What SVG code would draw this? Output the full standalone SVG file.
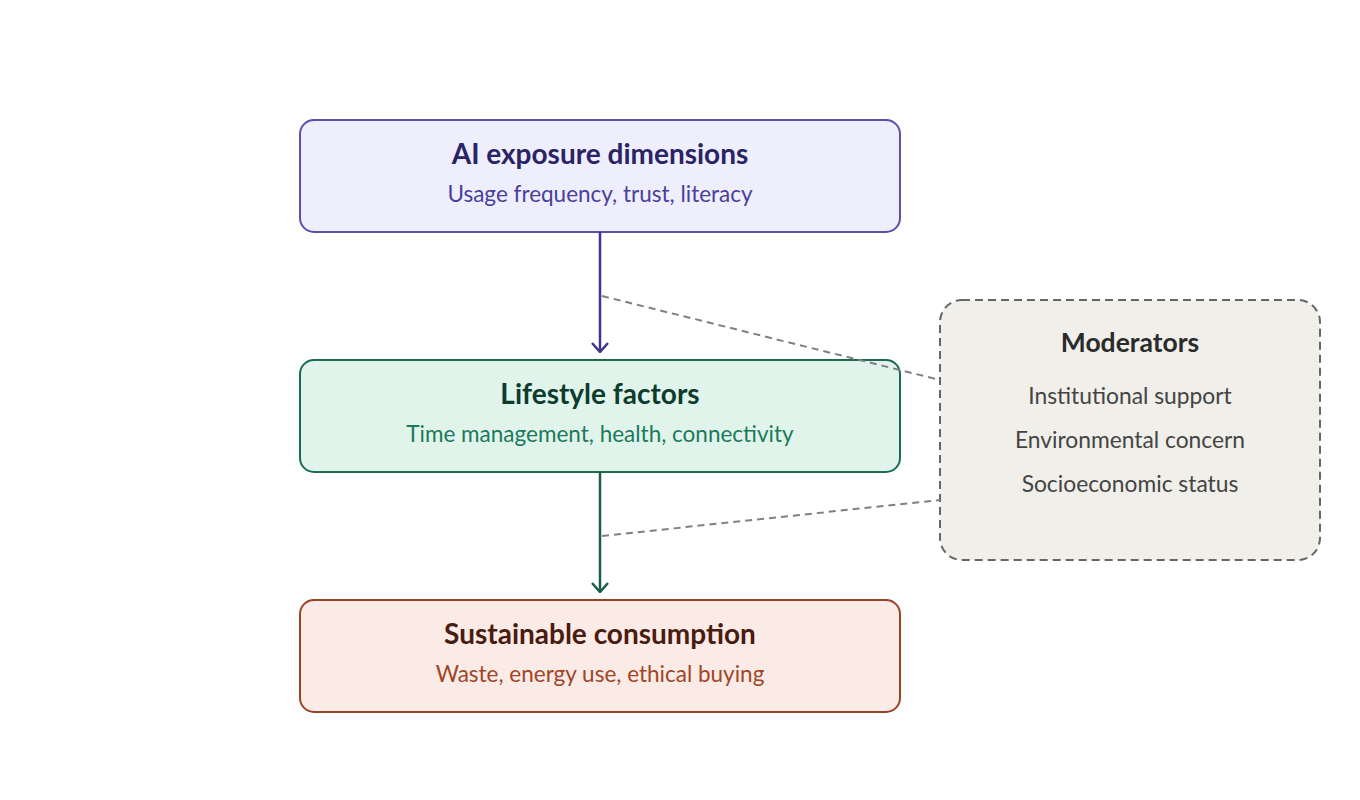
<svg xmlns="http://www.w3.org/2000/svg" width="1360" height="800" viewBox="0 0 1360 800">
<style>
.t{font-family:Lato,"Open Sans","Liberation Sans",sans-serif;font-weight:700;font-size:28px;text-anchor:middle}
.m{font-family:Lato,"Open Sans","Liberation Sans",sans-serif;font-weight:700;font-size:26.5px;text-anchor:middle}
.s{font-family:Lato,"Open Sans","Liberation Sans",sans-serif;font-size:22.5px;text-anchor:middle}
.i{font-family:Lato,"Open Sans","Liberation Sans",sans-serif;font-size:22.8px;text-anchor:middle}
.box{stroke-width:2}
.dash{fill:none;stroke:#808080;stroke-width:2;stroke-dasharray:7 5}
</style>
<defs>
<marker id="ap" viewBox="0 0 11 18" refX="10" refY="9" markerWidth="11" markerHeight="18" markerUnits="userSpaceOnUse" orient="auto">
<path d="M1,1 L10,9 L1,17" fill="none" stroke="#3f3590" stroke-width="2.5"/>
</marker>
<marker id="ag" viewBox="0 0 11 18" refX="10" refY="9" markerWidth="11" markerHeight="18" markerUnits="userSpaceOnUse" orient="auto">
<path d="M1,1 L10,9 L1,17" fill="none" stroke="#1a5e47" stroke-width="2.5"/>
</marker>
</defs>
<rect width="1360" height="800" fill="#ffffff"/>
<g id="node-ai">
<rect class="box" x="300" y="120" width="600" height="112" rx="14" fill="#eeeefc" stroke="#5a4fad"/>
<text class="t" x="600" y="164" fill="#2a2466">AI exposure dimensions</text>
<text class="s" x="600" y="202" fill="#4a3f9a">Usage frequency, trust, literacy</text>
</g>
<g id="node-lifestyle">
<rect class="box" x="300" y="360" width="600" height="112" rx="14" fill="#e1f4ec" stroke="#1c6b50"/>
<text class="t" x="600" y="404" fill="#0d3b2c">Lifestyle factors</text>
<text class="s" x="600" y="442" fill="#1a7a5a">Time management, health, connectivity</text>
</g>
<g id="node-sustainable">
<rect class="box" x="300" y="600" width="600" height="112" rx="14" fill="#fbebe6" stroke="#9a4326"/>
<text class="t" x="600" y="644" fill="#4a1c10">Sustainable consumption</text>
<text class="s" x="600" y="682" fill="#a04528">Waste, energy use, ethical buying</text>
</g>
<g id="node-moderators">
<rect x="940" y="300" width="380" height="260" rx="22" fill="#f0efea" stroke="#666666" stroke-width="2" stroke-dasharray="8 5"/>
<text class="m" x="1130" y="352" fill="#2b2b2b">Moderators</text>
<text class="i" x="1130" y="404" fill="#444444">Institutional support</text>
<text class="i" x="1130" y="448" fill="#444444">Environmental concern</text>
<text class="i" x="1130" y="492" fill="#444444">Socioeconomic status</text>
</g>
<g id="connectors">
<line x1="600" y1="232" x2="600" y2="352" stroke="#3f3590" stroke-width="2.5" marker-end="url(#ap)"/>
<line x1="600" y1="472" x2="600" y2="592" stroke="#1a5e47" stroke-width="2.5" marker-end="url(#ag)"/>
<line class="dash" x1="602" y1="296" x2="940" y2="380"/>
<line class="dash" x1="602" y1="536" x2="940" y2="500"/>
</g>
</svg>
